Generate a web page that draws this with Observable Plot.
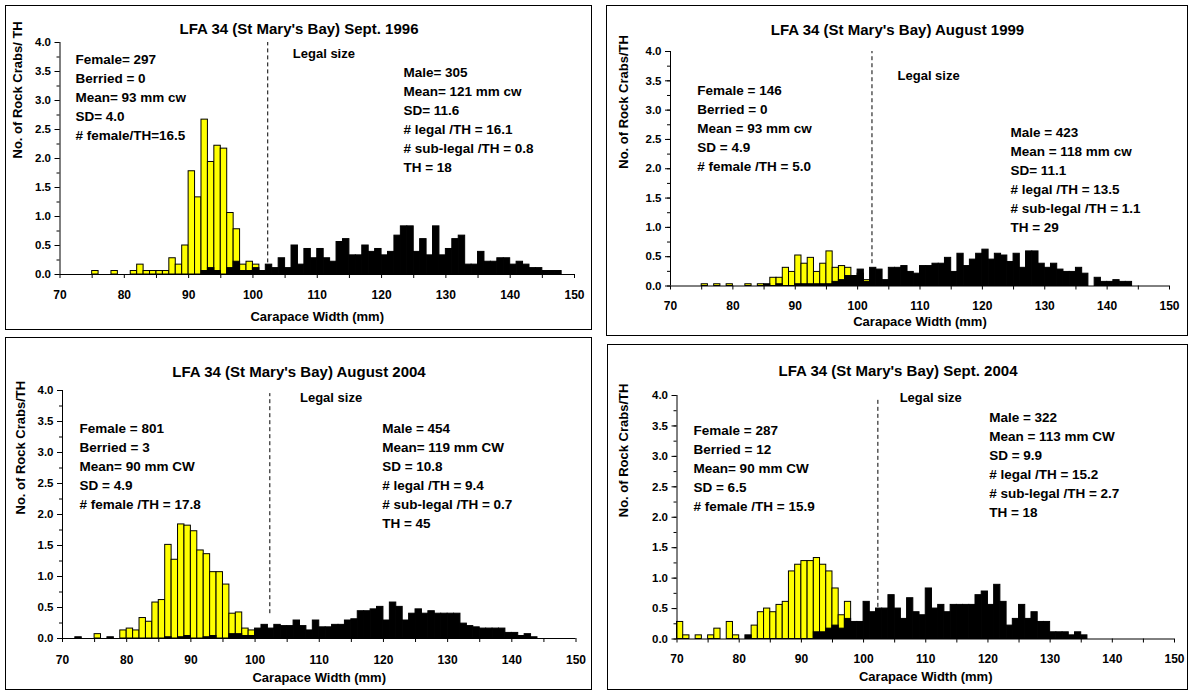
<!DOCTYPE html>
<html>
<head>
<meta charset="utf-8">
<script src="https://cdn.jsdelivr.net/npm/d3@7"></script>
<script src="https://cdn.jsdelivr.net/npm/@observablehq/plot@0.6"></script>
<style>
  body { margin: 0; background: #fff; }
  #page { position: relative; width: 1192px; height: 694px; overflow: hidden; background: #fff; }
  .panel { position: absolute; outline: 1px solid #000; outline-offset: -1px; background: #fff; }
  .panel svg { display: block; }
</style>
</head>
<body>
<div id="page"></div>
<script>
// Rock crab carapace-width frequencies, LFA 34 (St Mary's Bay).
// Bins are 1 mm wide; each series gives crabs per trap haul (TH),
// starting at the bin named by its "From" constant.

// ---- Sept. 1996 ----
const female1996From = 75;
const female1996 = [0.06, 0, 0, 0.06, 0, 0, 0.06, 0.17, 0.06, 0.06,
  0.06, 0.06, 0.28, 0.17, 0.5, 1.78, 1.33, 2.67, 1.94, 2.22,
  2.17, 1.06, 0.78, 0.17, 0.22, 0.17];
const male1996From = 92;
const male1996 = [0.06, 0.11, 0.06, 0, 0.11, 0.22, 0.06, 0.06, 0.11, 0.06,
  0.17, 0.11, 0.28, 0.11, 0.5, 0.17, 0.44, 0.28, 0.44, 0.28,
  0.22, 0.56, 0.61, 0.33, 0.33, 0.5, 0.39, 0.44, 0.33, 0.39,
  0.67, 0.83, 0.83, 0.39, 0.61, 0.33, 0.83, 0.33, 0.44, 0.61,
  0.67, 0.17, 0.17, 0.39, 0.22, 0.22, 0.28, 0.28, 0.17, 0.22,
  0.17, 0.11, 0.11, 0.06, 0.06, 0.06];
const notesFemale1996 = ["Female= 297", "Berried = 0", "Mean= 93 mm cw", "SD= 4.0", "# female/TH=16.5"];
const notesMale1996 = ["Male= 305", "Mean= 121 mm cw", "SD= 11.6", "# legal /TH = 16.1", "# sub-legal /TH = 0.8", "TH = 18"];

// ---- August 1999 ----
const female1999From = 75;
const female1999 = [0.03, 0, 0.03, 0, 0.03, 0, 0, 0.03, 0, 0.03,
  0, 0.14, 0.14, 0.31, 0.24, 0.52, 0.38, 0.48, 0.24, 0.38,
  0.59, 0.31, 0.34, 0.31, 0.17, 0.21, 0.10];
const male1999From = 85;
const male1999 = [0.03, 0, 0.03, 0, 0, 0.03, 0.03, 0.03, 0.03, 0.03,
  0.03, 0.07, 0.10, 0.17, 0.17, 0.28, 0.07,
  0.31, 0.28, 0.10, 0.31, 0.31, 0.34, 0.24, 0.21, 0.34, 0.34,
  0.38, 0.38, 0.48, 0.24, 0.55, 0.34, 0.45, 0.55, 0.62, 0.45,
  0.55, 0.52, 0.41, 0.55, 0.31, 0.59, 0.59, 0.38, 0.31, 0.38,
  0.28, 0.24, 0.24, 0.31, 0.21, 0, 0.14, 0.07, 0.07, 0.10,
  0.07, 0.07];
const notesFemale1999 = ["Female = 146", "Berried = 0", "Mean = 93 mm cw", "SD = 4.9", "# female /TH = 5.0"];
const notesMale1999 = ["Male = 423", "Mean = 118 mm cw", "SD= 11.1", "# legal /TH = 13.5", "# sub-legal /TH = 1.1", "TH = 29"];

// ---- August 2004 ----
const femaleAug2004From = 75;
const femaleAug2004 = [0.07, 0, 0, 0, 0.13, 0.16, 0.13, 0.33, 0.27, 0.58,
  0.62, 1.51, 1.27, 1.84, 1.82, 1.73, 1.42, 1.36, 1.07, 1.07,
  0.87, 0.4, 0.42, 0.16, 0.13];
const maleAug2004From = 72;
const maleAug2004 = [0.02, 0, 0, 0, 0, 0.02, 0, 0, 0, 0,
  0, 0, 0, 0, 0.02, 0, 0.02, 0.04, 0, 0,
  0.02, 0.04, 0, 0, 0.07, 0.07, 0.04, 0.04, 0.16, 0.22,
  0.16, 0.22, 0.2, 0.2, 0.29, 0.2, 0.13, 0.29, 0.18, 0.18,
  0.22, 0.22, 0.29, 0.31, 0.44, 0.44, 0.47, 0.51, 0.29, 0.58,
  0.51, 0.29, 0.4, 0.47, 0.4, 0.44, 0.4, 0.4, 0.4, 0.4,
  0.24, 0.2, 0.18, 0.16, 0.16, 0.16, 0.16, 0.09, 0.09, 0.04,
  0.07, 0.02];
const notesFemaleAug2004 = ["Female = 801", "Berried = 3", "Mean= 90 mm CW", "SD = 4.9", "# female /TH = 17.8"];
const notesMaleAug2004 = ["Male = 454", "Mean= 119 mm CW", "SD = 10.8", "# legal /TH = 9.4", "# sub-legal /TH = 0.7", "TH = 45"];

// ---- Sept. 2004 ----
const femaleSep2004From = 70;
const femaleSep2004 = [0.28, 0.06, 0, 0.06, 0, 0.06, 0.17, 0, 0.28, 0.06,
  0, 0, 0.22, 0.44, 0.5, 0.44, 0.56, 0.61, 1.11, 1.22,
  1.28, 1.28, 1.33, 1.22, 1.11, 0.83, 0.39, 0.61];
const maleSep2004From = 81;
const maleSep2004 = [0.06, 0, 0, 0, 0, 0, 0, 0, 0, 0,
  0, 0.11, 0.11, 0.17, 0.22, 0.17, 0.33, 0.28, 0.28, 0.61,
  0.44, 0.5, 0.5, 0.72, 0.5, 0.33, 0.67, 0.44, 0.39, 0.83,
  0.5, 0.56, 0.44, 0.56, 0.56, 0.56, 0.56, 0.72, 0.78, 0.56,
  0.89, 0.61, 0.22, 0.33, 0.56, 0.33, 0.44, 0.28, 0.28, 0.11,
  0.11, 0.11, 0.06, 0.11, 0.06];
const notesFemaleSep2004 = ["Female = 287", "Berried = 12", "Mean= 90 mm CW", "SD = 6.5", "# female /TH = 15.9"];
const notesMaleSep2004 = ["Male = 322", "Mean = 113 mm CW", "SD = 9.9", "# legal /TH = 15.2", "# sub-legal /TH = 2.7", "TH = 18"];

// Shared axis definitions
const widthDomain = [70, 150];
const perTrapDomain = [0, 4];
const fiveMmTicks = d3.range(70, 151, 5);
const tenMmTicks = d3.range(70, 151, 10);
const quarterTicks = d3.range(0, 4.01, 0.25);
const halfTicks = d3.range(0, 4.01, 0.5);
const legalSize = 102.3;
const xTitle = "Carapace Width (mm)";
const legalLabel = "Legal size";

const FONT = "'Liberation Sans', Arial, Helvetica, sans-serif";

function bins(from, values) {
  return values
    .map((v, i) => ({x1: from + i, x2: from + i + 1, y: v}))
    .filter(d => d.y > 0);
}

function drawPanel(p) {
  const frameCenter = (p.ml + p.width - p.mr) / 2;
  const lh = 19 / 13.5;
  const chart = Plot.plot({
    width: p.width,
    height: p.height,
    marginLeft: p.ml,
    marginRight: p.mr,
    marginTop: p.mt,
    marginBottom: p.mb,
    x: {domain: widthDomain},
    y: {domain: perTrapDomain},
    style: {fontFamily: FONT, fontWeight: "bold", color: "#000", background: "transparent", overflow: "visible"},
    marks: [
      Plot.ruleX([legalSize], {y1: p.dash[0], y2: p.dash[1], stroke: "#000", strokeWidth: 1, strokeDasharray: "4,3"}),
      Plot.rectY(bins(p.femaleFrom, p.female), {x1: "x1", x2: "x2", y: "y", fill: "#ffff00", stroke: "#000", strokeWidth: 1}),
      Plot.rectY(bins(p.maleFrom, p.male), {x1: "x1", x2: "x2", y: "y", fill: "#000", stroke: "#000", strokeWidth: 1}),
      Plot.ruleY([0], {stroke: "#000", strokeWidth: 1}),
      Plot.ruleX([70], {y1: 0, y2: 4, stroke: "#000", strokeWidth: 1}),
      Plot.axisX({ticks: fiveMmTicks, tickSize: 4, tickFormat: () => "", label: null}),
      Plot.axisX({ticks: tenMmTicks, tickSize: 0, tickPadding: p.xPad, fontSize: 12, label: null, tickFormat: d3.format("d")}),
      Plot.axisY({ticks: quarterTicks, tickSize: 3, tickFormat: () => "", label: null}),
      Plot.axisY({ticks: halfTicks, tickSize: 5, tickPadding: 4, fontSize: 11.5, label: null, tickFormat: d3.format(".1f")}),
      Plot.text([p.title], {frameAnchor: "top", dx: p.width / 2 - frameCenter, dy: p.titleY - p.mt, fontSize: 15, fontWeight: "bold", fill: "#000"}),
      Plot.text([xTitle], {frameAnchor: "bottom", dy: p.xTitleDy, fontSize: 13, fontWeight: "bold", fill: "#000"}),
      Plot.text([p.yTitle], {frameAnchor: "left", dx: p.yTitleDx, rotate: -90, fontSize: 13, fontWeight: "bold", fill: "#000"}),
      Plot.text([legalLabel], {x: p.legalAt[0], y: p.legalAt[1], textAnchor: "start", fontSize: 13, fontWeight: "bold", fill: "#000"}),
      Plot.text([p.femaleNotes.join("\n")], {x: p.femaleAt[0], y: p.femaleAt[1], textAnchor: "start", lineAnchor: "top", lineHeight: lh, fontSize: 13.5, fontWeight: "bold", fill: "#000"}),
      Plot.text([p.maleNotes.join("\n")], {x: p.maleAt[0], y: p.maleAt[1], textAnchor: "start", lineAnchor: "top", lineHeight: lh, fontSize: 13.5, fontWeight: "bold", fill: "#000"})
    ]
  });
  const box = document.createElement("div");
  box.className = "panel";
  box.style.left = p.left + "px";
  box.style.top = p.top + "px";
  box.style.width = p.width + "px";
  box.style.height = p.height + "px";
  box.appendChild(chart);
  document.getElementById("page").appendChild(box);
}

const panels = [
  {
    title: "LFA 34 (St Mary's Bay) Sept. 1996", yTitle: "No. of Rock Crabs/ TH",
    female: female1996, femaleFrom: female1996From, male: male1996, maleFrom: male1996From,
    femaleNotes: notesFemale1996, maleNotes: notesMale1996,
    left: 5, top: 5, width: 587, height: 325, ml: 54.5, mr: 18, mt: 37, mb: 56,
    titleY: 18, xPad: 16, xTitleDy: 46, yTitleDx: -42.5, dash: [0.2, 4.0],
    femaleAt: [72.4, 3.87], legalAt: [106.2, 3.81], maleAt: [123.4, 3.63]
  },
  {
    title: "LFA 34 (St Mary's Bay) August 1999", yTitle: "No. of Rock Crabs/TH",
    female: female1999, femaleFrom: female1999From, male: male1999, maleFrom: male1999From,
    femaleNotes: notesFemale1999, maleNotes: notesMale1999,
    left: 606, top: 5, width: 582, height: 331, ml: 64, mr: 19, mt: 46, mb: 50.5,
    titleY: 19, xPad: 15.5, xTitleDy: 39.5, yTitleDx: -47, dash: [0.38, 4.0],
    femaleAt: [74.3, 3.49], legalAt: [106.4, 3.58], maleAt: [124.5, 2.78]
  },
  {
    title: "LFA 34 (St Mary's Bay) August 2004", yTitle: "No. of Rock Crabs/TH",
    female: femaleAug2004, femaleFrom: femaleAug2004From, male: maleAug2004, maleFrom: maleAug2004From,
    femaleNotes: notesFemaleAug2004, maleNotes: notesMaleAug2004,
    left: 5, top: 337, width: 587, height: 353, ml: 57, mr: 16.5, mt: 53, mb: 52,
    titleY: 29, xPad: 17, xTitleDy: 43, yTitleDx: -42, dash: [0.4, 3.95],
    femaleAt: [72.65, 3.53], legalAt: [107, 3.88], maleAt: [119.8, 3.53]
  },
  {
    title: "LFA 34 (St Mary's Bay) Sept. 2004", yTitle: "No. of Rock Crabs/TH",
    female: femaleSep2004, femaleFrom: femaleSep2004From, male: maleSep2004, maleFrom: maleSep2004From,
    femaleNotes: notesFemaleSep2004, maleNotes: notesMaleSep2004,
    left: 607, top: 344, width: 581, height: 346, ml: 69.5, mr: 14, mt: 51, mb: 51.5,
    titleY: 21, xPad: 15, xTitleDy: 41.5, yTitleDx: -53.5, dash: [0.52, 3.96],
    femaleAt: [72.65, 3.58], legalAt: [105.8, 3.96], maleAt: [120.2, 3.78]
  }
];

panels.forEach(drawPanel);
</script>
</body>
</html>
